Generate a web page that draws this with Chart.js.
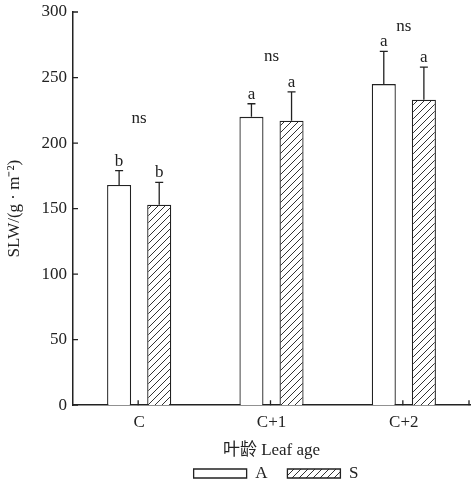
<!DOCTYPE html>
<html>
<head>
<meta charset="utf-8">
<script src="https://cdn.jsdelivr.net/npm/chart.js@4.4.1/dist/chart.umd.min.js"></script>
<style>
  html, body { margin: 0; padding: 0; background: #fff; }
  #wrap { width: 471px; height: 486px; }
</style>
</head>
<body>
<div id="wrap"><canvas id="slwChart" width="471" height="486"></canvas></div>
<script>
const categories = ["C", "C+1", "C+2"];
const seriesNames = ["A", "S"];
const valuesA = [168, 220, 245];
const valuesS = [153, 217, 233];
const sdA = [11, 10, 25];
const sdS = [17, 22, 25];
const lettersA = ["b", "a", "a"];
const lettersS = ["b", "a", "a"];
const nsLabels = ["ns", "ns", "ns"];
const nsLevel = [219, 266, 289];
const yTicks = [0, 50, 100, 150, 200, 250, 300];

const serif = "'Liberation Serif', 'Times New Roman', 'Noto Sans CJK SC', serif";
const ink = "#222";

function hatchPattern() {
    const c = document.createElement("canvas");
    c.width = 7; c.height = 7;
    const g = c.getContext("2d");
    g.fillStyle = "#fff";
    g.fillRect(0, 0, 7, 7);
    g.strokeStyle = "#333";
    g.lineWidth = 1;
    g.beginPath();
    g.moveTo(-1, 8); g.lineTo(8, -1);
    g.moveTo(-1, 1); g.lineTo(1, -1);
    g.moveTo(6, 8); g.lineTo(8, 6);
    g.stroke();
    return g.createPattern(c, "repeat");
}

const ctx = document.getElementById("slwChart").getContext("2d");
const hatch = hatchPattern();

const sdList = [sdA, sdS];
const letterList = [lettersA, lettersS];

// legend sits a bit right of centre in the original
const legendShift = {
    id: "legendShift",
    afterLayout(chart) {
        if (chart.legend) chart.legend.left += 82;
    }
};

const decorations = {
    id: "decorations",
    afterDatasetsDraw(chart) {
        const c = chart.ctx;
        const xs = chart.scales.x, ys = chart.scales.y;
        const area = chart.chartArea;
        c.save();
        c.strokeStyle = ink;
        c.fillStyle = ink;
        c.lineWidth = 1.3;

        // error bars and letters
        chart.data.datasets.forEach((ds, i) => {
            const meta = chart.getDatasetMeta(i);
            meta.data.forEach((bar, j) => {
                const top = ys.getPixelForValue(ds.data[j] + sdList[i][j]);
                c.beginPath();
                c.moveTo(bar.x, bar.y);
                c.lineTo(bar.x, top);
                c.moveTo(bar.x - 4, top);
                c.lineTo(bar.x + 4, top);
                c.stroke();
                c.font = "17px " + serif;
                c.textAlign = "center";
                c.textBaseline = "bottom";
                c.fillText(letterList[i][j], bar.x, top - 1);
            });
        });

        // ns labels
        c.font = "17px " + serif;
        c.textAlign = "center";
        c.textBaseline = "middle";
        categories.forEach((cat, j) => {
            c.fillText(nsLabels[j], xs.getPixelForValue(j), ys.getPixelForValue(nsLevel[j]));
        });

        // inward ticks
        c.beginPath();
        yTicks.forEach(v => {
            const y = ys.getPixelForValue(v);
            c.moveTo(area.left, y);
            c.lineTo(area.left + 5, y);
        });
        categories.forEach((cat, j) => {
            const x = xs.getPixelForValue(j) - 1;
            c.moveTo(x, area.bottom);
            c.lineTo(x, area.bottom - 5);
        });
        c.moveTo(area.right - 1, area.bottom);
        c.lineTo(area.right - 1, area.bottom - 5);
        c.stroke();
        c.restore();
    }
};

new Chart(ctx, {
    type: "bar",
    data: {
        labels: categories,
        datasets: [{
            label: seriesNames[0],
            data: valuesA,
            backgroundColor: "#fff",
            borderColor: ink,
            borderWidth: 1.3
        }, {
            label: seriesNames[1],
            data: valuesS,
            backgroundColor: hatch,
            borderColor: ink,
            borderWidth: 1.3
        }]
    },
    options: {
        responsive: false,
        animation: false,
        categoryPercentage: 0.606,
        barPercentage: 0.6,
        layout: { padding: { top: 12, right: 1, left: 0, bottom: -6 } },
        plugins: {
            tooltip: { enabled: false },
            legend: {
                position: "bottom",
                labels: {
                    color: ink,
                    font: { family: serif, size: 17 },
                    boxWidth: 53,
                    boxHeight: 9,
                    padding: 20
                }
            }
        },
        scales: {
            x: {
                grid: { display: false, drawTicks: false },
                border: { display: true, color: ink, width: 1.5 },
                ticks: { color: ink, font: { family: serif, size: 17 }, padding: 7 },
                title: {
                    display: true,
                    text: "叶龄 Leaf age",
                    color: ink,
                    font: { family: serif, size: 17 },
                    padding: { top: 1, bottom: -16 }
                }
            },
            y: {
                min: 0,
                max: 300,
                grid: { display: false, drawTicks: false },
                border: { display: true, color: ink, width: 1.5 },
                ticks: { color: ink, font: { family: serif, size: 17, lineHeight: 0.6 }, padding: 6, stepSize: 50 },
                title: {
                    display: true,
                    text: "SLW/(g · m⁻²)",
                    color: ink,
                    font: { family: serif, size: 17 },
                    padding: { top: 4, bottom: 0 }
                },
                afterFit(scale) { scale.width = 73; }
            }
        }
    },
    plugins: [legendShift, decorations]
});
</script>
</body>
</html>
